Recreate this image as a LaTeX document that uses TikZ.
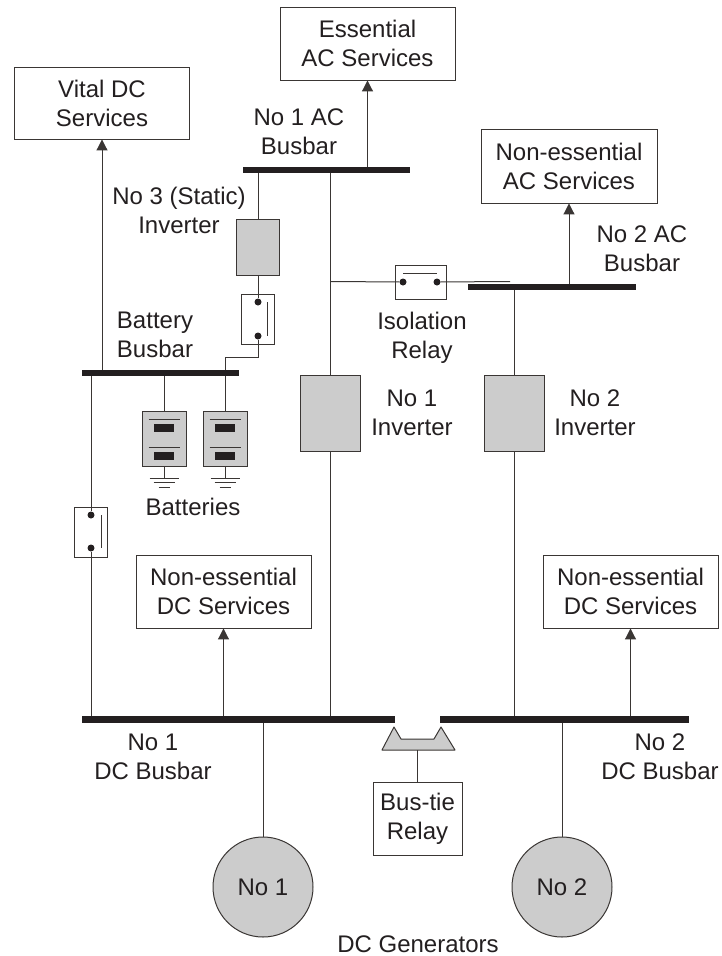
\documentclass[tikz,border=0pt]{standalone}
\usepackage{fontspec}
\setmainfont{Liberation Sans}
\usetikzlibrary{arrows.meta, calc, positioning}
\definecolor{Ink}  {HTML}{231F20}
\definecolor{Wire} {HTML}{3A3634}
\definecolor{LGray}{HTML}{CCCCCC}
\tikzset{
  svc/.style args={#1/#2}{
    rectangle, draw=Wire, fill=white, text=Ink,
    font=\fontsize{24}{29}\selectfont, align=center,
    inner sep=0pt, minimum width=#1pt, minimum height=#2pt,
    line width=0.9pt,
  },
  gbox/.style args={#1/#2}{
    rectangle, draw=Wire, fill=LGray,
    inner sep=0pt, minimum width=#1pt, minimum height=#2pt,
    line width=1pt,
  },
  swbox/.style args={#1/#2}{
    rectangle, draw=Wire,
    inner sep=0pt, minimum width=#1pt, minimum height=#2pt,
    line width=0.9pt,
  },
  bus/.style args={#1/#2}{
    rectangle, fill=Ink,
    inner sep=0pt, minimum width=#1pt, minimum height=#2pt,
  },
  gen/.style={
    circle, draw=Wire, fill=LGray, text=Ink,
    font=\fontsize{24}{29}\selectfont,
    inner sep=0pt, minimum size=100pt, line width=1pt,
  },
  cnt/.style={circle, fill=Ink, inner sep=0pt, minimum size=7pt},
  lbl/.style={font=\fontsize{24}{29}\selectfont, text=Ink, align=center, inner sep=0pt},
  wire/.style={line width=1pt, color=Wire},
  arr/.style={-{Triangle[length=11pt,width=11pt]}, line width=1pt, color=Wire},
}
\begin{document}
\begin{tikzpicture}[x=1pt,y=-1pt]
    \useasboundingbox (0,0) rectangle (721,956);
    % service boxes
    \node[svc=175/72] (vital) at (102,103)   {Vital DC\\Services};
    \node[svc=175/73] (ess)   at (367.5,43.5){Essential\\AC Services};
    \node[svc=176/74] (neac)  at (569,166)   {Non-essential\\AC Services};
    \node[svc=175/73] (nedc1) at (223.5,591.5){Non-essential\\DC Services};
    \node[svc=175/73] (nedc2) at (630.5,591.5){Non-essential\\DC Services};
    % busbars
    \node[bus=167/6] (ac1)  at (326.5,170)  {};
    \node[bus=168/6] (ac2)  at (552,287)    {};
    \node[bus=157/6] (batt) at (160.5,373)  {};
    \node[bus=313/7] (dc1)  at (238.5,719.5){};
    \node[bus=249/7] (dc2)  at (564.5,719.5){};
    % inverters
    \node[gbox=43/56] (inv3) at (258,247)   {};
    \node[gbox=60/76] (inv1) at (330,413)   {};
    \node[gbox=60/76] (inv2) at (514,413)   {};
    % generators and bus-tie
    \node[gen] (g1) at (263,887) {No 1};
    \node[gen] (g2) at (562,887) {No 2};
    \node[svc=89/73] (tie) at (417.5,818.5) {Bus-tie\\Relay};
    \draw[wire, fill=LGray, line join=round] (382,750) -- (394,727) -- (401,739) -- (434,739)
      -- (441,727) -- (455,750) -- cycle;
    \coordinate (tieb) at (417.5,750);
    % switches
    \node[swbox=33/50] (sw3) at (257.5,319) {};
    \node[cnt] (sw3a) at (258,302) {}; \node[cnt] (sw3b) at (258,336) {};
    \node[swbox=33/50] (swb) at (90.5,532)  {};
    \node[cnt] (swba) at (91,515) {};  \node[cnt] (swbb) at (91,548) {};
    \node[swbox=51/34] (iso) at (420.5,282) {};
    \node[cnt] (isoa) at (403,282) {}; \node[cnt] (isob) at (437,282) {};
    \draw[wire] ([xshift=9pt]sw3a.center) -- ([xshift=9pt]sw3b.center);
    \draw[wire] ([xshift=10pt]swba.center) -- ([xshift=10pt]swbb.center);
    \draw[wire] ([yshift=9pt]isoa.center) -- ([yshift=9pt]isob.center);
    % batteries
    \foreach \n/\x in {a/164, b/225}{
      \node[gbox=44/55] (bat\n) at (\x,438.5) {};
      \draw[wire] (\x-15.5,419) -- (\x+15.5,419) (\x-15.5,447) -- (\x+15.5,447);
      \node[bus=20/8] (cell\n) at (\x,428) {};
      \node[bus=20/8] (cellb\n) at (\x,456) {};
      \coordinate (gnd\n) at (\x,478);
      \draw[wire] (bat\n.south) -- (gnd\n);
      \draw[wire] (\x-14.5,478) -- (\x+14.5,478) (\x-10.5,482.5) -- (\x+10.5,482.5)
        (\x-5.5,487) -- (\x+5.5,487);
      \draw[wire] (batt.south -| bat\n.north) -- (bat\n.north);
    }
    % wiring
    \draw[arr] (batt.north -| vital.south) -- (vital.south);
    \draw[arr] (ac1.north -| ess.south) -- (ess.south);
    \draw[arr] (ac2.north -| neac.south) -- (neac.south);
    \draw[arr] (dc1.north -| nedc1.south) -- (nedc1.south);
    \draw[arr] (dc2.north -| nedc2.south) -- (nedc2.south);
    \draw[wire] (ac1.south -| inv3.north) -- (inv3.north);
    \draw[wire] (inv3.south) -- (sw3a);
    \draw[wire] (sw3b) -- (258,357) -| (batt.north -| batb.north);
    \draw[wire] (batt.south -| swba) -- (swba);
    \draw[wire] (swbb) -- (dc1.north -| swbb);
    \draw[wire] (ac1.south -| inv1.north) -- (inv1.north);
    \draw[wire] (inv1.south) -- (dc1.north -| inv1.south);
    \draw[wire] (ac2.south -| inv2.north) -- (inv2.north);
    \draw[wire] (inv2.south) -- (dc2.north -| inv2.south);
    \coordinate (isoj) at (330,281.5); \coordinate (isoe) at (510,281.5);
    \draw[wire] (isoj) -- (isoa);
    \draw[wire] (isob) -- (isoe);
    \draw[wire] (dc1.south -| g1.north) -- (g1.north);
    \draw[wire] (dc2.south -| g2.north) -- (g2.north);
    \draw[wire] (tieb) -- (tie.north);
    % labels
    \node[lbl] (lac1)  at (299,132)  {No 1 AC\\Busbar};
    \node[lbl] (lac2)  at (642,249)  {No 2 AC\\Busbar};
    \node[lbl] (linv3) at (179,210)  {No 3 (Static)\\Inverter};
    \node[lbl] (lbatb) at (155,335)  {Battery\\Busbar};
    \node[lbl] (lbats) at (193,507)  {Batteries};
    \node[lbl] (liso)  at (422,337.5){Isolation\\Relay};
    \node[lbl] (linv1) at (412,412.5){No 1\\Inverter};
    \node[lbl] (linv2) at (595,412.5){No 2\\Inverter};
    \node[lbl] (ldc1)  at (153,757)  {No 1\\DC Busbar};
    \node[lbl] (ldc2)  at (660,756.5){No 2\\DC Busbar};
    \node[lbl, align=none] (lgen) at (418,944.5) {DC Generators};
  \end{tikzpicture}
\end{document}
